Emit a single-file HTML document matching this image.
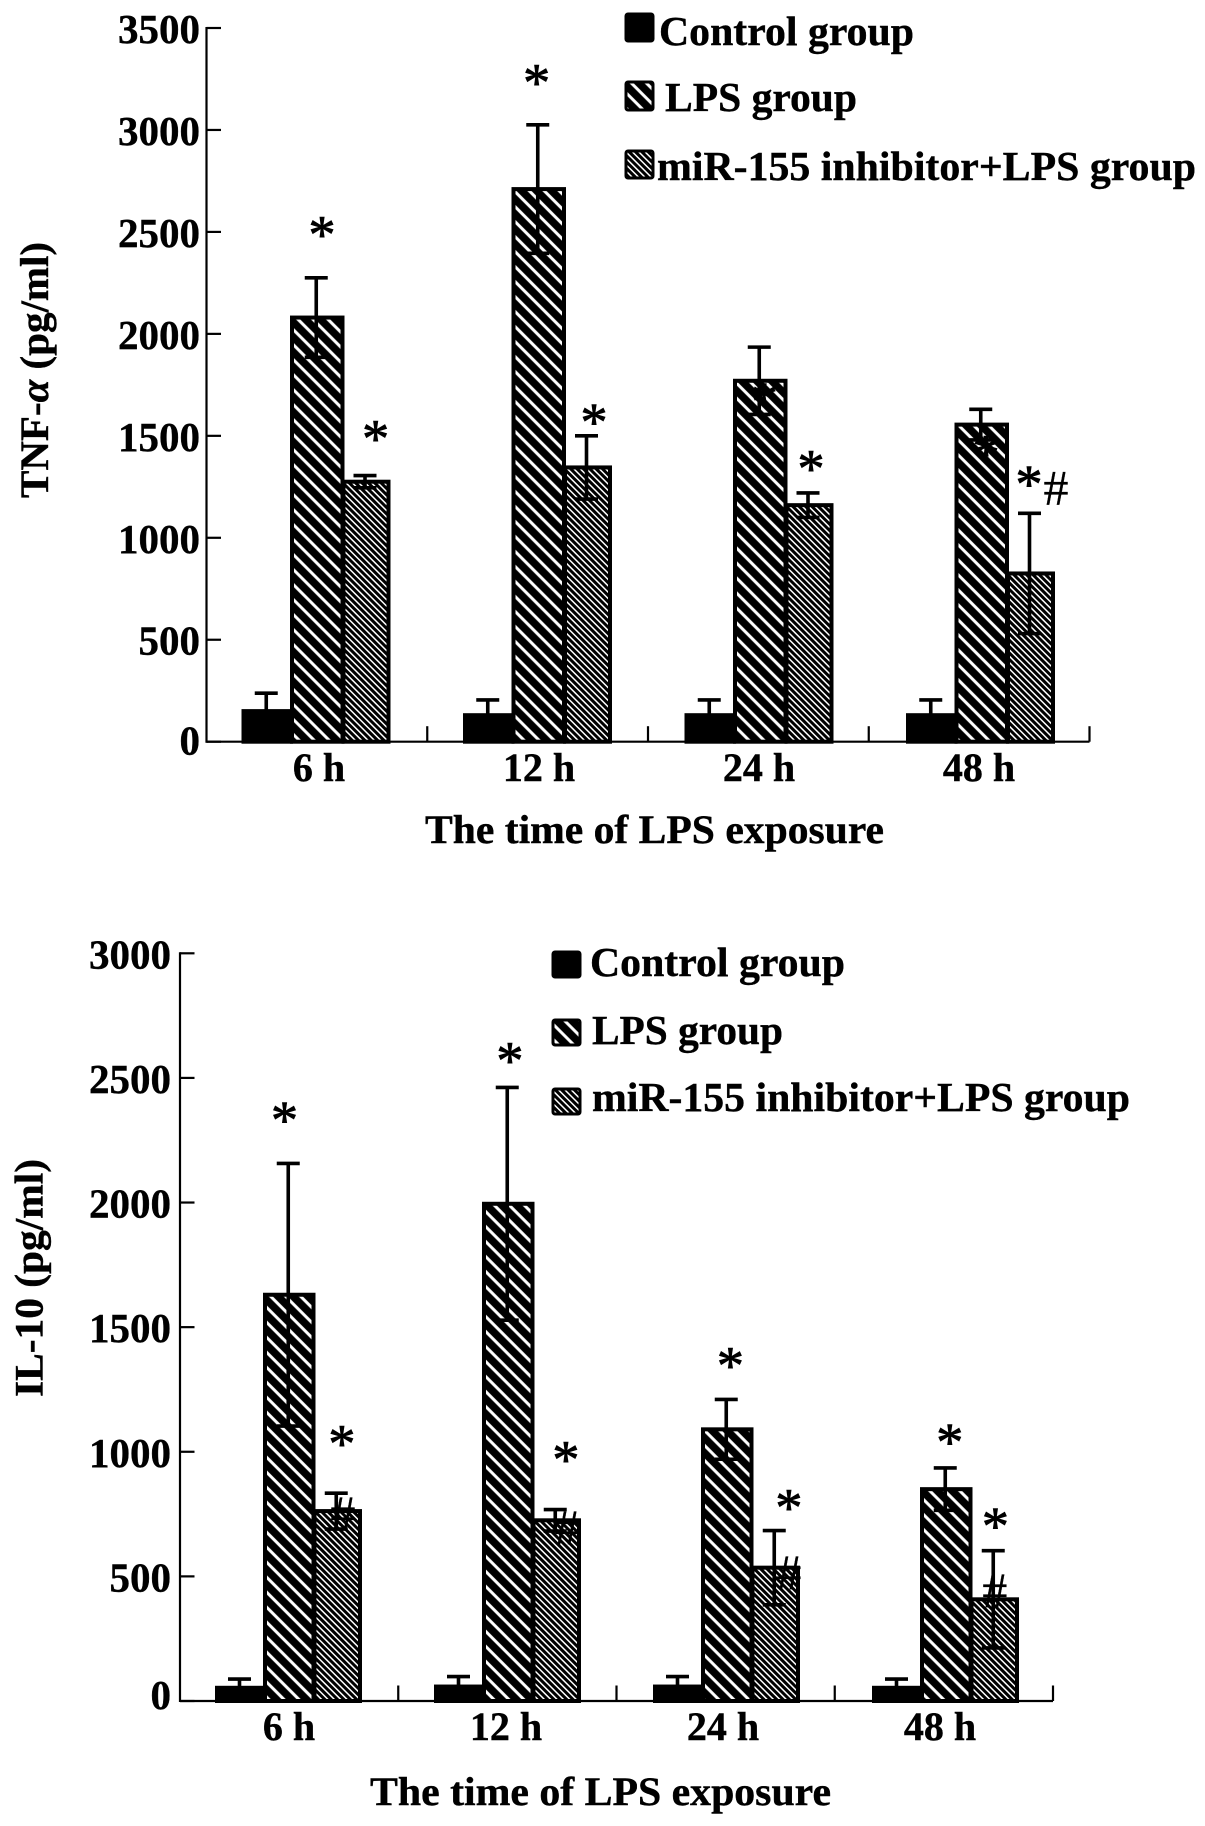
<!DOCTYPE html>
<html lang="en">
<head>
<meta charset="utf-8">
<title>TNF-α and IL-10 levels after LPS exposure</title>
<style>
html,body{margin:0;padding:0;background:#fff;}
svg{display:block;}
text{font-family:"Liberation Serif",serif;font-weight:bold;fill:#000;stroke:#000;stroke-width:.4px;}
</style>
</head>
<body>
<svg id="figure" xmlns="http://www.w3.org/2000/svg" width="1205" height="1826" viewBox="0 0 1205 1826">
<defs>
<pattern id="hatch-wide" patternUnits="userSpaceOnUse" width="10.6" height="10.6" patternTransform="rotate(45)">
<rect width="10.6" height="10.6" fill="#000"></rect>
<rect x="0" y="3" width="10.6" height="3" fill="#fff"></rect>
</pattern>
<pattern id="hatch-fine" patternUnits="userSpaceOnUse" width="4.5" height="4.5" patternTransform="rotate(45)">
<rect width="4.5" height="4.5" fill="#000"></rect>
<rect x="0" y="1.5" width="4.5" height="1.5" fill="#fff"></rect>
</pattern>
</defs>
<rect width="1205" height="1826" fill="#fff"></rect>

<g id="tnf-chart">
<text transform="translate(48,498) rotate(-90)" font-size="40" textLength="256" lengthAdjust="spacingAndGlyphs">TNF-<tspan font-style="italic">α</tspan> (pg/ml)</text>
<text x="425" y="843" font-size="40" textLength="459" lengthAdjust="spacingAndGlyphs">The time of LPS exposure</text>
<g>
<rect x="626" y="14" width="27" height="27" rx="2" fill="#000" stroke="#000" stroke-width="3"></rect>
<text x="659" y="45" font-size="41" textLength="255" lengthAdjust="spacingAndGlyphs">Control group</text>
<rect x="626" y="82" width="27" height="28" rx="2" fill="url(#hatch-wide)" stroke="#000" stroke-width="3"></rect>
<text x="665" y="111" font-size="41" textLength="192" lengthAdjust="spacingAndGlyphs">LPS group</text>
<rect x="626" y="151" width="27" height="27" rx="2" fill="url(#hatch-fine)" stroke="#000" stroke-width="3"></rect>
<text x="657" y="180" font-size="41" textLength="539" lengthAdjust="spacingAndGlyphs">miR-155 inhibitor+LPS group</text>
</g>
</g>

<g id="il10-chart">
<text transform="translate(42.5,1397) rotate(-90)" font-size="40" textLength="238" lengthAdjust="spacingAndGlyphs">IL-10 (pg/ml)</text>
<text x="370" y="1805" font-size="40" textLength="461" lengthAdjust="spacingAndGlyphs">The time of LPS exposure</text>
<g>
<rect x="553" y="952" width="27" height="25" rx="2" fill="#000" stroke="#000" stroke-width="3"></rect>
<text x="590" y="976" font-size="41" textLength="255" lengthAdjust="spacingAndGlyphs">Control group</text>
<rect x="553" y="1020" width="27" height="25" rx="2" fill="url(#hatch-wide)" stroke="#000" stroke-width="3"></rect>
<text x="592" y="1044" font-size="41" textLength="191" lengthAdjust="spacingAndGlyphs">LPS group</text>
<rect x="553" y="1089" width="27" height="25" rx="2" fill="url(#hatch-fine)" stroke="#000" stroke-width="3"></rect>
<text x="592" y="1111" font-size="41" textLength="538" lengthAdjust="spacingAndGlyphs">miR-155 inhibitor+LPS group</text>
</g>
</g>
</svg>

<script>
// Shared categories
const timeCategories = ['6 h', '12 h', '24 h', '48 h'];
const seriesKeys = ['control', 'lps', 'inhibitor'];

// TNF-alpha panel data (pg/ml)
const tnfTickLabels = [0, 500, 1000, 1500, 2000, 2500, 3000, 3500];
const tnfControl = [150, 130, 130, 130];
const tnfLps = [2080, 2710, 1770, 1555];
const tnfInhibitor = [1275, 1345, 1160, 825];
const tnfControlErr = [88, 75, 75, 75];
const tnfLpsErr = [195, 315, 165, 75];
const tnfInhibitorErr = [30, 155, 60, 295];
// Significance marks: [position along the category axis in group units, value level on the y axis]
const tnfStars = [[0.361, 2510], [0.603, 1510], [1.33, 3255], [1.589, 1590], [2.569, 1362], [3.553, 1287], [2.357, 1692], [3.359, 1436]];
const tnfHashes = [[3.675, 1247]];

// IL-10 panel data (pg/ml)
const il10TickLabels = [0, 500, 1000, 1500, 2000, 2500, 3000];
const il10Control = [53, 58, 58, 53];
const il10Lps = [1630, 1995, 1090, 850];
const il10Inhibitor = [762, 725, 535, 408];
const il10ControlErr = [35, 40, 40, 35];
const il10LpsErr = [527, 467, 120, 85];
const il10InhibitorErr = [72, 43, 149, 195];
const il10Stars = [[0.315, 2350], [0.577, 1052], [1.344, 2588], [1.6, 987], [2.351, 1365], [2.618, 794], [3.353, 1057], [3.561, 720]];
const il10Hashes = [[0.582, 755], [1.605, 699], [2.618, 518], [3.559, 445]];

const NS = 'http://www.w3.org/2000/svg';

function make(parent, tag, props, text) {
  const el = document.createElementNS(NS, tag);
  for (const k in props) el.setAttribute(k, props[k]);
  if (text !== undefined) el.textContent = text;
  parent.appendChild(el);
  return el;
}

function drawChart(cfg) {
  const root = document.getElementById(cfg.rootId);
  const y = v => cfg.zeroY - v * cfg.pxPerUnit;
  const groupX = i => cfg.firstGroupX + i * cfg.groupStep;
  const barX = (g, s) => {
    let x = groupX(g);
    for (let k = 0; k < s; k++) x += cfg.barWidths[k];
    return x;
  };
  const barCenter = (g, s) => barX(g, s) + cfg.barWidths[s] / 2;
  const fills = ['#000', 'url(#hatch-wide)', 'url(#hatch-fine)'];

  // bars
  cfg.series.forEach((vals, s) => {
    vals.forEach((v, g) => {
      const bar = make(root, 'rect', {
        x: barX(g, s) + 1.5,
        y: y(v),
        width: cfg.barWidths[s] - 1,
        height: cfg.zeroY - y(v),
        fill: fills[s],
        stroke: '#000',
        'stroke-width': 4
      });
      
      
    });
  });

  // error bars
  cfg.errors.forEach((errs, s) => {
    errs.forEach((e, g) => {
      const cx = barCenter(g, s);
      const top = y(cfg.series[s][g] + e);
      const low = y(cfg.series[s][g] - e);
      const path = 'M' + cx + ' ' + low + 'V' + top +
        'M' + (cx - 11.5) + ' ' + top + 'H' + (cx + 11.5) +
        'M' + (cx - 11.5) + ' ' + low + 'H' + (cx + 11.5);
      const err = make(root, 'path', { d: path, stroke: '#000', 'stroke-width': 3.6, fill: 'none' });
      
      
    });
  });

  // axes
  const yAxis = make(root, 'line', { x1: cfg.axisX, x2: cfg.axisX, y1: y(cfg.yTicks[cfg.yTicks.length - 1]) - 1, y2: cfg.zeroY + 1, stroke: '#000', 'stroke-width': 2.2 });
  
  
  const xAxis = make(root, 'line', { x1: cfg.axisX, x2: cfg.axisEndX, y1: cfg.zeroY, y2: cfg.zeroY, stroke: '#000', 'stroke-width': 2.2 });
  
  

  cfg.yTicks.forEach(t => {
    const tick = make(root, 'line', { x1: cfg.axisX, x2: cfg.axisX + 14.5, y1: y(t), y2: y(t), stroke: '#000', 'stroke-width': 2.2 });
    
    
    const label = make(root, 'text', { x: cfg.axisX - cfg.labelGap, y: y(t) + (t === 0 ? cfg.zeroBaseline : cfg.tickBaseline), 'text-anchor': 'end', 'font-size': 41 }, String(t));
    
    
  });

  timeCategories.forEach((c, i) => {
    const tx = cfg.axisX + (i + 1) * (cfg.axisEndX - cfg.axisX) / timeCategories.length;
    const tick = make(root, 'line', { x1: tx, x2: tx, y1: cfg.zeroY - 15.5, y2: cfg.zeroY, stroke: '#000', 'stroke-width': 2.2 });
    
    
    const label = make(root, 'text', { x: cfg.catStart + i * cfg.catStep, y: cfg.catBaseline, 'text-anchor': 'middle', 'font-size': 40 }, c);
    
    
  });

  // significance markers
  cfg.stars.forEach(st => {
    const mark = make(root, 'text', { x: groupX(st[0]), y: y(st[1]) + 22.5, 'text-anchor': 'middle', 'font-size': 54, style: 'font-weight:normal;stroke-width:.9px' }, '*');
    
    
  });
  cfg.hashes.forEach(h => {
    const mark = make(root, 'text', { x: groupX(h[0]), y: y(h[1]) + 17, 'text-anchor': 'middle', 'font-size': 50, style: 'font-weight:normal;stroke-width:.2px' }, '#');
    
    
  });
}

drawChart({
  rootId: 'tnf-chart',
  zeroY: 741.7,
  pxPerUnit: 713.7 / 3500,
  axisX: 206.5,
  axisEndX: 1089.5,
  firstGroupX: 242,
  groupStep: 221.5,
  barWidths: [48.5, 51.5, 46],
  yTicks: tnfTickLabels,
  tickBaseline: 15,
  zeroBaseline: 13,
  labelGap: 6.5,
  catBaseline: 781,
  catStart: 319,
  catStep: 220,
  series: [tnfControl, tnfLps, tnfInhibitor],
  errors: [tnfControlErr, tnfLpsErr, tnfInhibitorErr],
  stars: tnfStars,
  hashes: tnfHashes
});

drawChart({
  rootId: 'il10-chart',
  zeroY: 1701,
  pxPerUnit: 747.7 / 3000,
  axisX: 180,
  axisEndX: 1053,
  firstGroupX: 215.5,
  groupStep: 219,
  barWidths: [48, 49.5, 46.5],
  yTicks: il10TickLabels,
  tickBaseline: 15,
  zeroBaseline: 8,
  labelGap: 9,
  catBaseline: 1740,
  catStart: 289,
  catStep: 217,
  series: [il10Control, il10Lps, il10Inhibitor],
  errors: [il10ControlErr, il10LpsErr, il10InhibitorErr],
  stars: il10Stars,
  hashes: il10Hashes
});
</script>
</body>
</html>
